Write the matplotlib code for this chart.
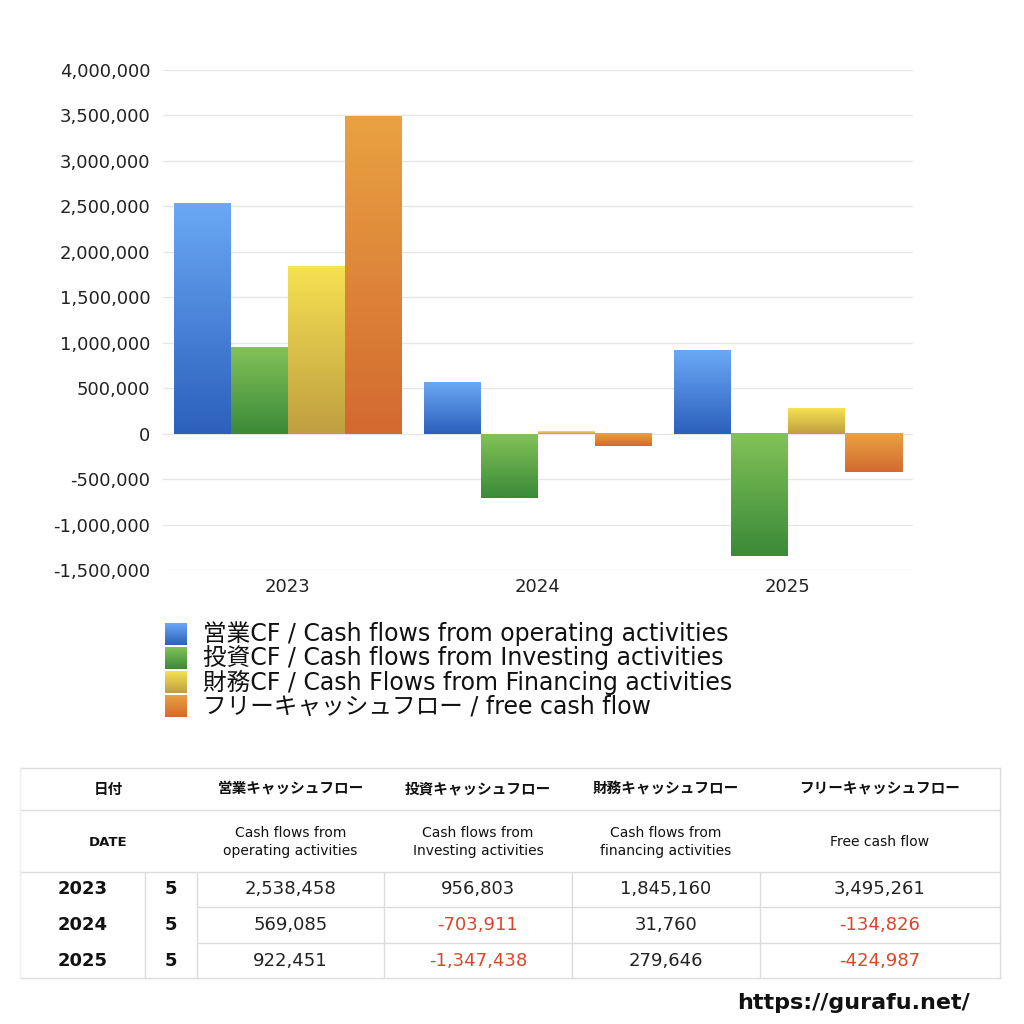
import numpy as np
import matplotlib
matplotlib.use("Agg")
import matplotlib.pyplot as plt
from matplotlib.colors import to_rgb

plt.rcParams['font.family'] = ['DejaVu Sans', 'Noto Sans CJK JP']

# ---------------- data ----------------
years = ["2023", "2024", "2025"]
months = ["5", "5", "5"]
operating = [2538458, 569085, 922451]
investing = [956803, -703911, -1347438]
financing = [1845160, 31760, 279646]
free_cf = [3495261, -134826, -424987]

series_labels = [
    "営業CF / Cash flows from operating activities",
    "投資CF / Cash flows from Investing activities",
    "財務CF / Cash Flows from Financing activities",
    "フリーキャッシュフロー / free cash flow",
]
header_jp = ["営業キャッシュフロー", "投資キャッシュフロー", "財務キャッシュフロー", "フリーキャッシュフロー"]
header_en = ["Cash flows from\noperating activities", "Cash flows from\nInvesting activities",
             "Cash flows from\nfinancing activities", "Free cash flow"]
yticks = [-1500000, -1000000, -500000, 0, 500000, 1000000, 1500000, 2000000,
          2500000, 3000000, 3500000, 4000000]

# gradient colours (top, bottom)
grads = [("#6aa8f4", "#2c60bc"), ("#82c258", "#3a8a38"),
         ("#f6e152", "#bf9f40"), ("#e9a242", "#d36a30")]

W, H = 1024, 1024
fig = plt.figure(figsize=(W / 100, H / 100), dpi=100)

def grad_img(top, bottom, n=64):
    t = np.linspace(0, 1, n)[:, None, None]
    a = np.array(to_rgb(top))[None, None, :]
    b = np.array(to_rgb(bottom))[None, None, :]
    return a * (1 - t) + b * t

# ---------------- chart ----------------
ax = fig.add_axes([163 / W, 1 - 570 / H, 750 / W, 500 / H])
x = np.arange(len(years))
bw = 0.228
all_series = [operating, investing, financing, free_cf]
for i, vals in enumerate(all_series):
    bars = ax.bar(x + (i - 1.5) * bw, vals, bw, color="none", linewidth=0, zorder=2)
    img = grad_img(*grads[i])
    for p in bars:
        x0 = p.get_x(); x1 = x0 + p.get_width()
        y0 = p.get_y(); y1 = y0 + p.get_height()
        lo, hi = min(y0, y1), max(y0, y1)
        ax.imshow(img, extent=[x0, x1, lo, hi], aspect="auto", origin="upper",
                  interpolation="bilinear", zorder=3)

ax.set_xlim(-0.5, 2.5)
ax.set_ylim(-1500000, 4000000)
ax.set_yticks(yticks)
ax.set_yticklabels([f"{v:,}" for v in yticks], fontsize=13, color="#222222")
ax.set_xticks(x)
ax.set_xticklabels(years, fontsize=13, color="#222222")
ax.tick_params(length=0, pad=6)
ax.tick_params(axis="y", pad=9)
ax.grid(axis="y", color="#e6e6e6", linewidth=1, zorder=0)
ax.set_axisbelow(True)
for s in ax.spines.values():
    s.set_visible(False)

# ---------------- overlay (legend, table, watermark) ----------------
ov = fig.add_axes([0, 0, 1, 1], zorder=5)
ov.set_xlim(0, W); ov.set_ylim(H, 0); ov.axis("off")
ov.patch.set_alpha(0)

# legend
for i, lab in enumerate(series_labels):
    yc = 634 + i * 24
    ov.imshow(grad_img(*grads[i]), extent=[165, 187, yc + 11, yc - 11], aspect="auto",
              interpolation="bilinear", zorder=3)
    ov.text(203, yc, lab, fontsize=17, va="center", ha="left", color="#111111")
ov.set_xlim(0, W); ov.set_ylim(H, 0)

# table
lc = "#dcdcdc"
L, R = 20, 1000
colx = [20, 145, 197, 384, 572, 760, 1000]
rowy = [768, 810, 872, 907, 943, 978]
for yy in [768, 810, 872, 978]:
    ov.plot([L, R], [yy, yy], color=lc, lw=1)
for yy in [907, 943]:
    ov.plot([197, R], [yy, yy], color=lc, lw=1)
ov.plot([L, L], [768, 978], color="#eeeeee", lw=1)
ov.plot([R, R], [768, 978], color=lc, lw=1)
for xx in colx[1:-1]:
    ov.plot([xx, xx], [872, 978], color=lc, lw=1)

centers = [(colx[j] + colx[j + 1]) / 2 for j in range(2, 6)]
ov.text(108, 789, "日付", fontsize=10.5, fontweight="bold", ha="center", va="center", color="#111111")
ov.text(108, 842, "DATE", fontsize=9.5, fontweight="bold", ha="center", va="center", color="#111111")
for j in range(4):
    ov.text(centers[j], 789, header_jp[j], fontsize=10.5, fontweight="bold", ha="center",
            va="center", color="#111111")
    ov.text(centers[j], 842, header_en[j], fontsize=10, ha="center", va="center",
            color="#111111", linespacing=1.4)

row_c = [(rowy[k] + rowy[k + 1]) / 2 for k in range(2, 5)]
for r in range(3):
    ov.text(83, row_c[r], years[r], fontsize=13, fontweight="bold", ha="center",
            va="center", color="#111111")
    ov.text(171, row_c[r], months[r], fontsize=13, fontweight="bold", ha="center",
            va="center", color="#111111")
    for j, vals in enumerate(all_series):
        v = vals[r]
        ov.text(centers[j], row_c[r], f"{v:,}", fontsize=13, ha="center", va="center",
                color="#d9472b" if v < 0 else "#222222")

ov.text(970, 1003, "https://gurafu.net/", fontsize=16, fontweight="bold", ha="right",
        va="center", color="#111111")

fig.savefig("out.png", dpi=100, facecolor="white")
